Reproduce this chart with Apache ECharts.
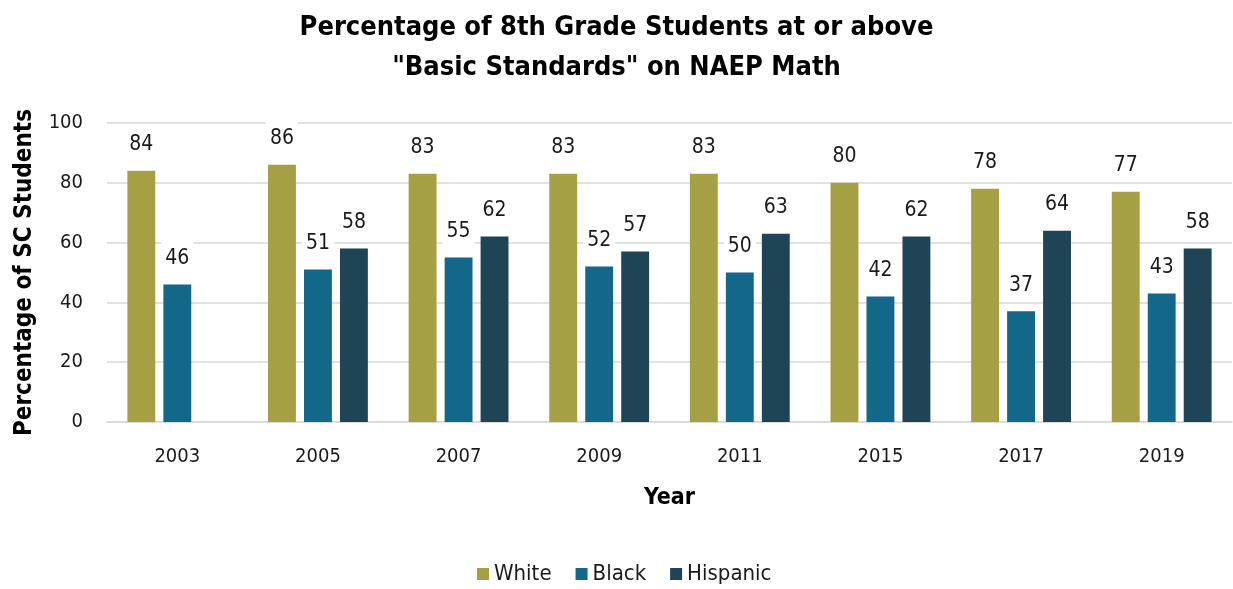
<!DOCTYPE html>
<html>
<head>
<meta charset="utf-8">
<script src="https://cdn.jsdelivr.net/npm/echarts@6/dist/echarts.min.js"></script>
<style>
html,body{margin:0;padding:0;background:#fff;}
#chart{width:1233px;height:589px;}
</style>
</head>
<body>
<div id="chart"></div>
<script>
const years = ['2003','2005','2007','2009','2011','2015','2017','2019'];
const white = [84, 86, 83, 83, 83, 80, 78, 77];
const black = [46, 51, 55, 52, 50, 42, 37, 43];
const hispanic = [null, 58, 62, 57, 63, 62, 64, 58];
const yTicks = [0, 20, 40, 60, 80, 100];

const FONT = "'Liberation Sans Narrow', 'Arial Narrow', 'DejaVu Sans Condensed', 'Roboto Condensed', sans-serif";
const TXT = '#1a1a1a';

const labelCfg = {
  show: true,
  position: 'top',
  distance: 10,
  color: TXT,
  fontFamily: FONT,
  fontSize: 21,
  lineHeight: 22,
  backgroundColor: '#ffffff',
  padding: [9, 4, 5, 4]
};

function mk(name, data, color) {
  return {
    name: name,
    type: 'bar',
    data: data,
    barGap: '29%',
    barCategoryGap: '29%',
    itemStyle: { color: color },
    label: labelCfg
  };
}

const chart = echarts.init(document.getElementById('chart'), null, { renderer: 'canvas' });
chart.setOption({
  animation: false,
  backgroundColor: '#ffffff',
  textStyle: { fontFamily: FONT },
  title: {
    text: 'Percentage of 8th Grade Students at or above\n"Basic Standards" on NAEP Math',
    left: 'center',
    top: 8,
    padding: 0,
    textStyle: {
      fontFamily: FONT,
      fontWeight: 'bold',
      fontSize: 27,
      lineHeight: 40,
      color: '#000'
    }
  },
  legend: {
    top: 563,
    left: 477,
    padding: 0,
    icon: 'rect',
    itemWidth: 12,
    itemHeight: 12,
    itemGap: 24,
    textStyle: { fontFamily: FONT, fontSize: 22, color: TXT },
    data: ['White', 'Black', 'Hispanic']
  },
  grid: { left: 107, right: 1, top: 123, bottom: 167, containLabel: false, outerBoundsMode: 'none' },
  xAxis: {
    type: 'category',
    data: years,
    name: 'Year',
    nameLocation: 'middle',
    nameGap: 65,
    nameTextStyle: { fontFamily: FONT, fontWeight: 'bold', fontSize: 23, color: '#000' },
    axisLine: { show: true, lineStyle: { color: '#d9d9d9', width: 1.5 } },
    axisTick: { show: false },
    axisLabel: { fontFamily: FONT, fontSize: 20, color: TXT, margin: 25 }
  },
  yAxis: {
    type: 'value',
    min: yTicks[0],
    max: yTicks[yTicks.length - 1],
    interval: 20,
    name: 'Percentage of SC Students',
    nameLocation: 'middle',
    nameGap: 70,
    nameTextStyle: { fontFamily: FONT, fontWeight: 'bold', fontSize: 24, color: '#000' },
    axisLine: { show: false },
    axisTick: { show: false },
    splitLine: { lineStyle: { color: '#d9d9d9', width: 1.5 } },
    axisLabel: { fontFamily: FONT, fontSize: 20, color: TXT, margin: 24 }
  },
  series: [
    mk('White', white, '#A4A043'),
    mk('Black', black, '#136789'),
    mk('Hispanic', hispanic, '#1F4456')
  ]
});
</script>
</body>
</html>
